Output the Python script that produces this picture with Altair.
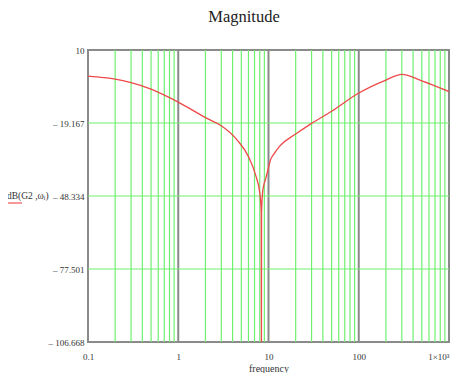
import altair as alt
import pandas as pd

# Magnitude curve (frequency, dB)
freq = [0.1, 0.15, 0.2, 0.3, 0.5, 0.8, 1, 1.5, 2, 3, 4.5, 6, 7.2, 8.0, 8.32, 8.35, 8.38, 8.6, 8.8,
        9.3, 10, 10.5, 11.5, 13.4, 20, 30, 50, 100, 200, 300, 500, 1000]
mag = [-0.4, -1.0, -1.6, -3.0, -5.6, -9.0, -10.8, -14.4, -17.0, -20.3, -26.0, -32.6, -40.0, -47.0, -55.0, -115.0, -55.0, -47.0, -44.6,
       -41.5, -37.0, -34.0, -31.5, -28.3, -23.6, -19.3, -14.5, -7.2, -2.0, 0.3, -2.3, -6.6]

minor_freq = [0.2, 0.3, 0.4, 0.5, 0.6, 0.7, 0.8, 0.9,
              2, 3, 4, 5, 6, 7, 8, 9,
              20, 30, 40, 50, 60, 70, 80, 90,
              200, 300, 400, 500, 600, 700, 800, 900]
decade_freq = [1, 10, 100]
y_grid = [-19.167, -48.334, -77.501]
y_ticks = [10, -19.167, -48.334, -77.501, -106.668]
x_ticks = [0.1, 1, 10, 100, 1000]

df = pd.DataFrame({"freq": freq, "mag": mag})

SERIF = "'Liberation Serif', 'Times New Roman', Times, serif"

xscale = alt.Scale(type="log", domain=[0.1, 1000], nice=False)
yscale = alt.Scale(domain=[-106.668, 10], nice=False, zero=False)

x_label_expr = ("datum.value < 0.5 ? '0.1' : datum.value < 5 ? '1' : datum.value < 50 ? '10' : "
                "datum.value < 500 ? '100' : '1×10³'")
y_label_expr = "datum.value > 0 ? '10' : '\u2013 ' + format(-datum.value, '.3f')"

minor_rules = alt.Chart(pd.DataFrame({"freq": minor_freq})).mark_rule(
    color="#6ef06e", strokeWidth=1.2
).encode(x=alt.X("freq:Q", scale=xscale))

decade_rules = alt.Chart(pd.DataFrame({"freq": decade_freq})).mark_rule(
    color="#8a8a8a", strokeWidth=2
).encode(x=alt.X("freq:Q", scale=xscale))

h_rules = alt.Chart(pd.DataFrame({"mag": y_grid})).mark_rule(
    color="#6ef06e", strokeWidth=1.2
).encode(y=alt.Y("mag:Q", scale=yscale))

line = alt.Chart(df).mark_line(color="#ee4a4a", strokeWidth=1.3, clip=True, interpolate="monotone").encode(
    x=alt.X("freq:Q", scale=xscale,
            axis=alt.Axis(values=x_ticks, labelExpr=x_label_expr, title="frequency",
                          labelPadding=10, labelFlush=False, titleBaseline="alphabetic",
                          titleY=29,
                          labelAlign={"condition": {"test": "datum.value > 500", "value": "right"},
                                      "value": "center"})),
    y=alt.Y("mag:Q", scale=yscale,
            axis=alt.Axis(values=y_ticks, labelExpr=y_label_expr, title=None,
                          labelPadding=4, labelFlush=False)),
)

title = alt.Chart(pd.DataFrame({"t": ["Magnitude"]})).mark_text(
    font=SERIF, fontSize=16.5, color="#222", align="center", baseline="alphabetic"
).encode(text="t:N", x=alt.value(156), y=alt.value(-28))

ytitle = alt.Chart(pd.DataFrame({"t": ["dB(G2 ,ωᵢ)"]})).mark_text(
    font=SERIF, fontSize=9.5, color="#333", align="left", baseline="middle"
).encode(text="t:N", x=alt.value(-81), y=alt.value(146))

underline = alt.Chart(pd.DataFrame({"t": [0]})).mark_rule(color="#ee3333", strokeWidth=1).encode(
    x=alt.value(-81), x2=alt.value(-66), y=alt.value(153)
)

chart = alt.layer(minor_rules, decade_rules, h_rules, line, title, ytitle, underline).properties(
    width=361, height=292,
    autosize=alt.AutoSizeParams(type="none"),
    padding={"left": 80, "top": 42, "right": 2, "bottom": 31},
).configure_view(stroke="#8a8a8a", strokeWidth=2).configure_axis(
    grid=False, domain=False, ticks=False, tickSize=0,
    labelFont=SERIF, labelFontSize=9, labelColor="#333",
    titleFont=SERIF, titleFontSize=10, titleFontWeight="normal", titleColor="#333",
)

chart.save("out.html", embed_options={"renderer": "svg", "actions": False})
